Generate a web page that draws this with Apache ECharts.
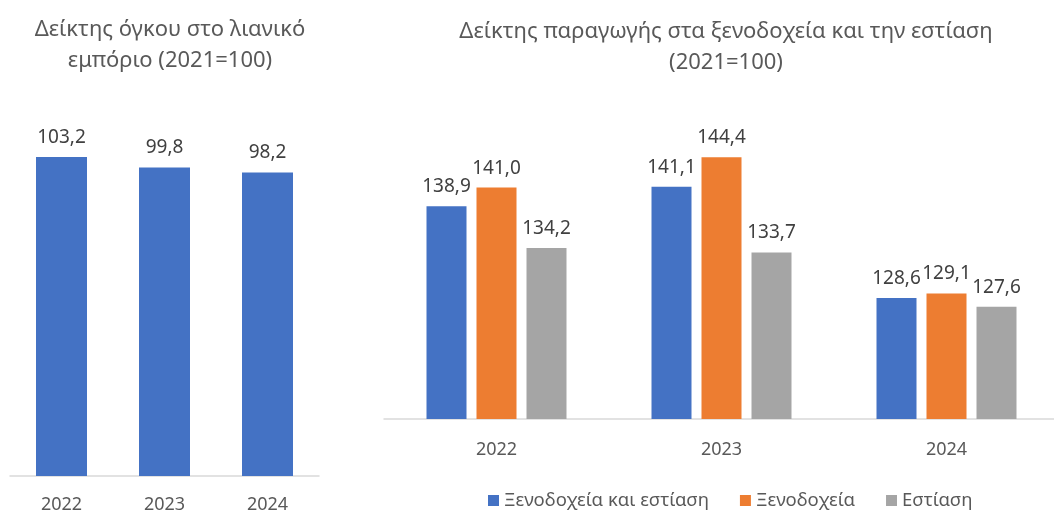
<!DOCTYPE html>
<html>
<head>
<meta charset="utf-8">
<script src="https://cdn.jsdelivr.net/npm/echarts@6/dist/echarts.min.js"></script>
<style>
html,body{margin:0;padding:0;background:#fff;}
#c{width:1054px;height:510px;}
</style>
</head>
<body>
<div id="c"></div>
<script>
// Left panel: retail volume index
const retailYears = ['2022', '2023', '2024'];
const retailValues = [103.2, 99.8, 98.2];

// Right panel: production index in hotels & restaurants
const hotelYears = ['2022', '2023', '2024'];
const seriesNames = ['Ξενοδοχεία και εστίαση', 'Ξενοδοχεία', 'Εστίαση'];
const hotelsAndFood = [138.9, 141.1, 128.6];
const hotels = [141.0, 144.4, 129.1];
const food = [134.2, 133.7, 127.6];

const titleLeft = 'Δείκτης όγκου στο λιανικό\nεμπόριο (2021=100)';
const titleRight = 'Δείκτης παραγωγής στα ξενοδοχεία και την εστίαση\n(2021=100)';

const FONT = '"Noto Sans", sans-serif';
const fmt = v => v.toFixed(1).replace('.', ',');
const labelCfg = {
  show: true, position: 'top', distance: 10,
  color: '#404040', fontSize: 19, fontFamily: FONT,
  formatter: p => fmt(p.value)
};

const chart = echarts.init(document.getElementById('c'), null, {renderer: 'canvas'});
chart.setOption({
  animation: false,
  backgroundColor: '#ffffff',
  textStyle: {fontFamily: FONT},
  title: [
    {text: titleLeft, left: 165, top: 9, textAlign: 'center',
     textStyle: {fontSize: 22, fontWeight: 'normal', color: '#595959', lineHeight: 31, fontFamily: FONT}},
    {text: titleRight, left: 721, top: 11, textAlign: 'center',
     textStyle: {fontSize: 22, fontWeight: 'normal', color: '#595959', lineHeight: 31, fontFamily: FONT}}
  ],
  legend: {
    data: seriesNames, left: 483, top: 486,
    itemWidth: 11, itemHeight: 11, itemGap: 31,
    icon: 'rect',
    textStyle: {fontSize: 18.5, color: '#595959', fontFamily: FONT, padding: [0, 0, 0, 0]}
  },
  grid: [
    {left: 10, top: 105, width: 309, height: 371, outerBoundsMode: 'none', containLabel: false},
    {left: 384, top: 107.5, width: 675, height: 311.5, outerBoundsMode: 'none', containLabel: false}
  ],
  xAxis: [
    {type: 'category', gridIndex: 0, data: retailYears,
     axisLine: {lineStyle: {color: '#D9D9D9', width: 1.5}}, axisTick: {show: false},
     axisLabel: {color: '#595959', fontSize: 18, margin: 20, fontFamily: FONT}},
    {type: 'category', gridIndex: 1, data: hotelYears,
     axisLine: {lineStyle: {color: '#D9D9D9', width: 1.5}}, axisTick: {show: false},
     axisLabel: {color: '#595959', fontSize: 18, margin: 22, fontFamily: FONT}}
  ],
  yAxis: [
    {type: 'value', gridIndex: 0, min: 0, max: 120, show: false, splitLine: {show: false}},
    {type: 'value', gridIndex: 1, min: 115, max: 150, show: false, splitLine: {show: false}}
  ],
  series: [
    {type: 'bar', name: 'retail', xAxisIndex: 0, yAxisIndex: 0, data: retailValues,
     barWidth: 51, itemStyle: {color: '#4472C4'}, label: labelCfg},
    {type: 'bar', name: seriesNames[0], xAxisIndex: 1, yAxisIndex: 1, data: hotelsAndFood,
     barWidth: 40, barGap: '25%', itemStyle: {color: '#4472C4'}, label: labelCfg},
    {type: 'bar', name: seriesNames[1], xAxisIndex: 1, yAxisIndex: 1, data: hotels,
     barWidth: 40, barGap: '25%', itemStyle: {color: '#ED7D31'}, label: labelCfg},
    {type: 'bar', name: seriesNames[2], xAxisIndex: 1, yAxisIndex: 1, data: food,
     barWidth: 40, barGap: '25%', itemStyle: {color: '#A5A5A5'}, label: labelCfg}
  ]
});
</script>
</body>
</html>
